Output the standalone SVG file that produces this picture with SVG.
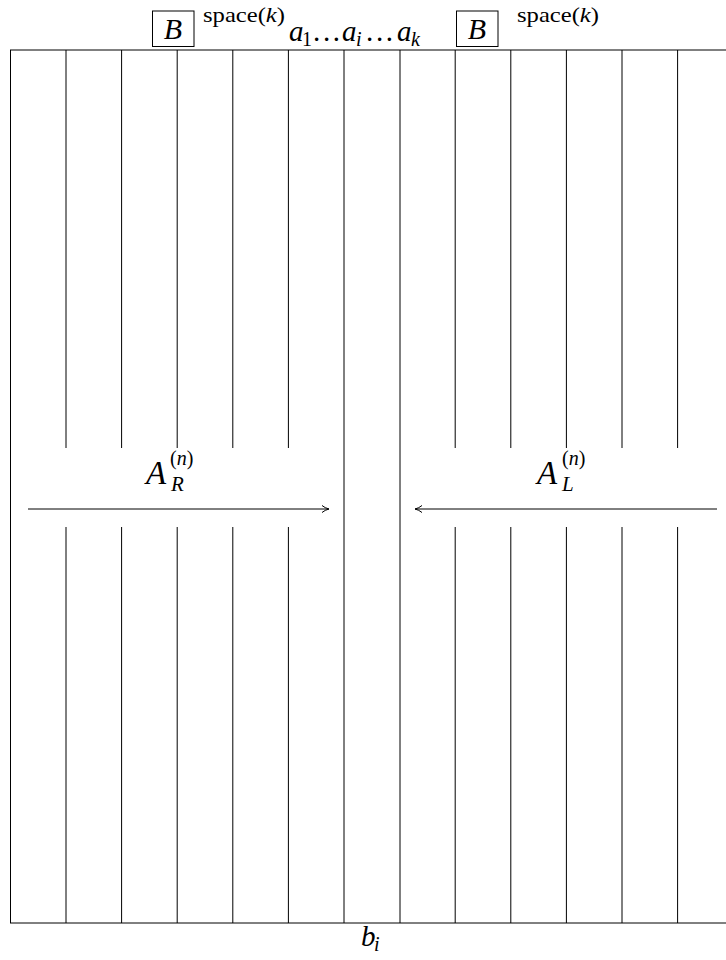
<svg xmlns="http://www.w3.org/2000/svg" width="726" height="960" viewBox="0 0 726 960">
<defs>
<marker id="ah" viewBox="0 0 10 10" refX="9" refY="5" markerWidth="10" markerHeight="10" markerUnits="userSpaceOnUse" orient="auto">
<path d="M2,1.5 Q5,4 9,5 Q5,6 2,8.5" fill="none" stroke="#000" stroke-width="1"/>
</marker>
</defs>
<rect width="726" height="960" fill="#fff"/>
<g id="header" fill="#000">
<rect x="152.5" y="11" width="41.5" height="35.5" fill="none" stroke="#000" stroke-width="1"/>
<text style="font-family:'Liberation Serif',serif;font-style:italic" x="173" y="39" font-size="30" text-anchor="middle">B</text>
<text style="font-family:'Liberation Serif',serif" x="203" y="22" font-size="22" textLength="82" lengthAdjust="spacingAndGlyphs">space(<tspan style="font-style:italic">k</tspan>)</text>
<text style="font-family:'Liberation Serif',serif;font-style:italic" x="289" y="41" font-size="29">a</text>
<text style="font-family:'Liberation Serif',serif" x="302" y="46" font-size="20">1</text>
<text style="font-family:'Liberation Serif',serif" x="313" y="41" font-size="29" textLength="27" lengthAdjust="spacing">...</text>
<text style="font-family:'Liberation Serif',serif;font-style:italic" x="342" y="41" font-size="29">a</text>
<text style="font-family:'Liberation Serif',serif;font-style:italic" x="356" y="46" font-size="20">i</text>
<text style="font-family:'Liberation Serif',serif" x="366" y="41" font-size="29" textLength="27" lengthAdjust="spacing">...</text>
<text style="font-family:'Liberation Serif',serif;font-style:italic" x="397" y="41" font-size="29">a</text>
<text style="font-family:'Liberation Serif',serif;font-style:italic" x="411" y="46" font-size="20">k</text>
<rect x="456.5" y="11" width="41.5" height="35.5" fill="none" stroke="#000" stroke-width="1"/>
<text style="font-family:'Liberation Serif',serif;font-style:italic" x="477" y="39" font-size="30" text-anchor="middle">B</text>
<text style="font-family:'Liberation Serif',serif" x="517" y="22" font-size="22" textLength="82" lengthAdjust="spacingAndGlyphs">space(<tspan style="font-style:italic">k</tspan>)</text>
</g>
<g id="grid" stroke="#000" stroke-width="1" fill="none">
<line x1="10" y1="50" x2="726" y2="50"/>
<line x1="10" y1="923" x2="726" y2="923"/>
<line x1="10.5" y1="50" x2="10.5" y2="923"/>
<line x1="344" y1="50" x2="344" y2="923"/>
<line x1="400" y1="50" x2="400" y2="923"/>
<path d="M66,50V448M66,527V923M121.6,50V448M121.6,527V923M177.2,50V448M177.2,527V923M232.8,50V448M232.8,527V923M288.4,50V448M288.4,527V923M455.2,50V448M455.2,527V923M510.8,50V448M510.8,527V923M566.4,50V448M566.4,527V923M622,50V448M622,527V923M677.6,50V448M677.6,527V923"/>
</g>
<g id="connectors" stroke="#000" stroke-width="1" fill="none">
<line x1="28" y1="509" x2="329" y2="509" marker-end="url(#ah)"/>
<line x1="717" y1="509" x2="415" y2="509" marker-end="url(#ah)"/>
</g>
<g id="labelR" fill="#000">
<text style="font-family:'Liberation Serif',serif;font-style:italic" x="146" y="484" font-size="33">A</text>
<text style="font-family:'Liberation Serif',serif" x="170" y="465" font-size="20">(<tspan style="font-style:italic">n</tspan>)</text>
<text style="font-family:'Liberation Serif',serif;font-style:italic" x="171" y="491" font-size="21">R</text>
</g>
<g id="labelL" fill="#000">
<text style="font-family:'Liberation Serif',serif;font-style:italic" x="537" y="484" font-size="33">A</text>
<text style="font-family:'Liberation Serif',serif" x="562" y="465" font-size="20">(<tspan style="font-style:italic">n</tspan>)</text>
<text style="font-family:'Liberation Serif',serif;font-style:italic" x="562" y="491" font-size="21">L</text>
</g>
<g id="footer" fill="#000">
<text style="font-family:'Liberation Serif',serif;font-style:italic" x="361" y="946" font-size="29">b</text>
<text style="font-family:'Liberation Serif',serif;font-style:italic" x="374" y="951" font-size="20">i</text>
</g>
</svg>
